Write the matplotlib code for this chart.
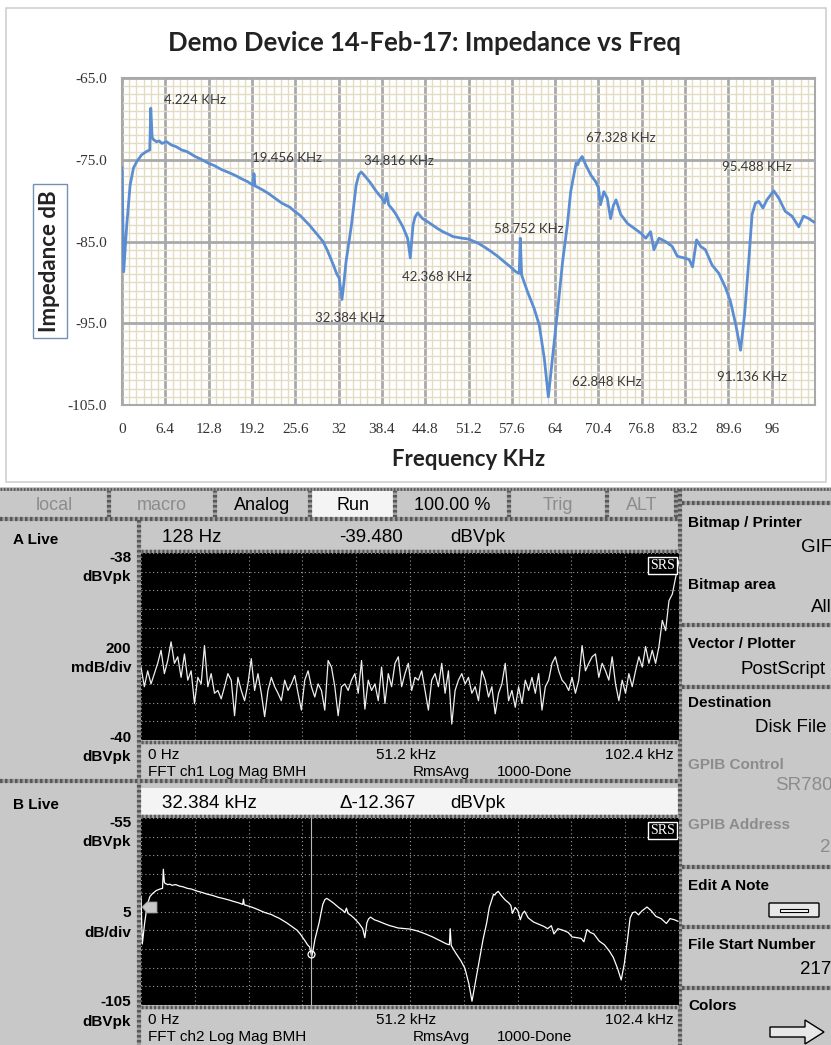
import numpy as np
import matplotlib.pyplot as plt
from matplotlib.patches import Rectangle, Polygon, FancyBboxPatch

W, H = 831, 1045

# ---- Excel chart: impedance vs frequency (also the B trace of the analyzer) ----
imp_freq = [0.0, 0.25, 0.5, 0.7, 1.0, 1.2, 1.7, 2.2, 2.9, 3.6, 4.1, 4.25, 4.45, 4.6,
            5.1, 5.5, 5.9, 6.6, 7.3, 8.0, 8.8, 9.6, 10.8, 11.6, 12.7, 13.6, 14.7,
            15.6, 16.7, 17.6, 18.6, 19.35, 19.5, 19.65, 19.9, 20.8, 21.6, 22.6,
            23.6, 24.8, 25.5, 26.3, 27.0, 27.7, 28.7, 29.7, 30.3, 30.7, 31.2, 31.7,
            32.1, 32.5, 32.8, 33.1, 33.9, 34.6, 35.0, 35.35, 35.7, 36.6, 37.6, 38.4,
            38.8, 39.1, 39.4, 40.0, 40.5, 41.5, 42.2, 42.6, 43.0, 43.3, 43.7, 44.4,
            45.2, 45.9, 46.6, 47.4, 48.2, 48.9, 49.6, 50.3, 51.2, 52.6, 53.6, 54.5,
            55.5, 56.5, 57.4, 58.2, 58.7, 58.85, 59.05, 59.9, 60.9, 61.65, 62.4,
            63.0, 63.6, 64.4, 65.1, 65.8, 66.3, 67.1, 67.35, 67.55, 68.0, 68.5,
            69.3, 70.0, 70.4, 70.7, 71.2, 71.7, 72.2, 72.6, 73.0, 73.7, 74.7, 75.7,
            76.7, 77.4, 78.1, 78.6, 79.35, 80.3, 81.3, 82.05, 83.0, 83.8, 84.3,
            84.9, 85.5, 86.2, 87.2, 88.2, 89.2, 89.9, 90.7, 91.4, 92.0, 92.6, 93.1,
            93.6, 94.1, 94.7, 95.3, 96.3, 97.05, 98.0, 99.0, 100.0, 100.7, 101.5,
            102.2]
imp_db = [-76.0, -88.7, -85.5, -83.0, -80.0, -78.1, -76.0, -75.2, -74.4, -74.0,
          -73.8, -68.7, -72.2, -72.5, -72.8, -72.7, -73.0, -72.8, -73.2, -73.4,
          -73.8, -74.0, -74.6, -74.9, -75.4, -75.7, -76.2, -76.5, -76.9, -77.3,
          -77.7, -78.1, -76.7, -78.2, -78.3, -78.7, -79.1, -79.7, -80.3, -80.8,
          -81.3, -81.8, -82.4, -83.0, -84.0, -85.0, -86.0, -86.8, -87.8, -88.9,
          -89.5, -92.1, -90.0, -87.5, -83.0, -78.1, -76.8, -76.5, -76.8, -77.7,
          -78.9, -79.7, -80.3, -79.1, -80.5, -81.1, -81.7, -83.2, -84.6, -87.0,
          -83.0, -82.0, -81.5, -82.2, -82.6, -83.0, -83.4, -83.8, -84.1, -84.4,
          -84.5, -84.6, -84.7, -85.2, -85.7, -86.2, -86.8, -87.5, -88.1, -88.7,
          -88.9, -84.6, -89.1, -91.1, -93.2, -95.2, -99.3, -104.0, -99.3, -93.2,
          -87.5, -83.0, -78.9, -75.4, -75.6, -75.1, -74.6, -75.6, -76.9, -77.7,
          -78.4, -80.5, -78.9, -79.7, -82.2, -80.6, -79.9, -81.7, -82.8, -83.4,
          -84.0, -84.6, -83.8, -86.0, -84.6, -85.0, -85.6, -86.8, -87.0, -87.2,
          -88.1, -84.8, -85.6, -86.0, -87.9, -88.9, -90.7, -92.3, -95.2, -98.3,
          -93.9, -87.5, -81.7, -80.3, -80.1, -80.9, -79.9, -78.8, -79.7, -81.3,
          -81.9, -83.2, -81.9, -82.2, -82.6]

note_text = ['4.224 KHz', '19.456 KHz', '34.816 KHz', '32.384 KHz', '42.368 KHz',
             '58.752 KHz', '67.328 KHz', '62.848 KHz', '95.488 KHz', '91.136 KHz']
note_f = [6.2, 19.2, 35.8, 28.5, 41.4, 55.0, 68.6, 66.5, 88.6, 87.9]
note_db = [-67.7, -74.8, -75.1, -94.3, -89.3, -83.5, -72.3, -102.2, -75.9, -101.6]

x_ticks = [0, 6.4, 12.8, 19.2, 25.6, 32, 38.4, 44.8, 51.2, 57.6, 64, 70.4, 76.8,
           83.2, 89.6, 96]
x_tick_text = ['0', '6.4', '12.8', '19.2', '25.6', '32', '38.4', '44.8', '51.2',
               '57.6', '64', '70.4', '76.8', '83.2', '89.6', '96']
y_ticks = [-105, -95, -85, -75, -65]
y_tick_text = ['-105.0', '-95.0', '-85.0', '-75.0', '-65.0']

# ---- analyzer trace A (live noise, dBVpk) ----
a_db = [-39.22, -39.43, -39.26, -39.40, -39.29, -39.18, -39.04, -39.29, -39.15,
        -38.95, -39.18, -39.11, -39.33, -39.08, -39.36, -39.26, -39.61, -39.33,
        -39.40, -38.99, -39.43, -39.29, -39.50, -39.47, -39.56, -39.43, -39.29,
        -39.36, -39.74, -39.33, -39.47, -39.58, -39.40, -39.13, -39.47, -39.29,
        -39.50, -39.75, -39.47, -39.33, -39.43, -39.50, -39.58, -39.36, -39.47,
        -39.40, -39.31, -39.50, -39.68, -39.36, -39.26, -39.43, -39.54, -39.40,
        -39.47, -39.68, -39.15, -39.22, -39.43, -39.74, -39.43, -39.40, -39.47,
        -39.36, -39.29, -39.50, -39.15, -39.67, -39.36, -39.47, -39.40, -39.58,
        -39.22, -39.61, -39.29, -39.43, -39.18, -39.11, -39.43, -39.29, -39.18,
        -39.47, -39.33,
        -39.36, -39.26, -39.47, -39.68, -39.36, -39.29, -39.43, -39.18, -39.50,
        -39.26, -39.83, -39.47, -39.36, -39.29, -39.40, -39.33, -39.50, -39.43,
        -39.58, -39.26, -39.36, -39.54, -39.43, -39.72, -39.50, -39.40, -39.18,
        -39.58, -39.47, -39.65, -39.43, -39.61, -39.36, -39.47, -39.33, -39.50,
        -39.29, -39.68, -39.43, -39.36, -39.18, -39.11, -39.26, -39.36, -39.40,
        -39.47, -39.33, -39.50, -39.36, -38.99, -39.26, -39.18, -39.11, -39.08,
        -39.33, -39.18, -39.26, -39.36, -39.11, -39.40, -39.58, -39.36, -39.50,
        -39.29, -39.43, -39.26, -39.11, -39.22, -39.00, -39.18, -39.04, -39.18,
        -39.00, -38.72, -38.83, -38.51, -38.44, -38.26, -38.08]
a_freq = np.linspace(0, 102.4, len(a_db))

cursor_f = 32.384

buttons = ['local', 'macro', 'Analog', 'Run', '100.00 %', 'Trig', 'ALT']
button_edges = [0, 109, 215, 310, 395, 509, 607, 676]
button_on = [False, False, True, True, True, False, False]


def box(x0, y0, x1, y1):
    return [x0 / W, 1 - y1 / H, (x1 - x0) / W, (y1 - y0) / H]


fig = plt.figure(figsize=(W / 100, H / 100), dpi=100, facecolor='white')

bg = fig.add_axes([0, 0, 1, 1])
bg.set_xlim(0, W)
bg.set_ylim(H, 0)
bg.axis('off')

# Excel chart frame + texts
bg.add_patch(Rectangle((6, 8), 820, 474, fc='white', ec='#cfcfcf', lw=1.2))
bg.text(425, 43, 'Demo Device 14-Feb-17: Impedance vs Freq', ha='center', va='center',
        fontsize=18.5, fontweight='bold', family='Lato', color='#222222')
bg.text(469, 460, 'Frequency KHz', ha='center', va='center', fontsize=16,
        fontweight='bold', family='Lato', color='#222222')
bg.text(50, 261, 'Impedance dB', rotation=90, ha='center', va='center', fontsize=16,
        fontweight='bold', family='Lato', color='#222222',
        bbox=dict(boxstyle='square,pad=0.3', fc='white', ec='#7590b5', lw=1.0))

ax = fig.add_axes(box(122, 78, 815, 405))
ax.plot(imp_freq, imp_db, color='#5b8dd3', lw=2.0, zorder=3)
ax.set_xlim(0, 102.4)
ax.set_ylim(-105, -65)
ax.set_xticks(x_ticks, x_tick_text)
ax.set_yticks(y_ticks, y_tick_text)
ax.set_xticks(np.arange(0, 102.5, 6.4 / 6), minor=True)
ax.set_yticks(np.arange(-105, -64, 1), minor=True)
ax.grid(which='minor', color='#e3dcc3', lw=1.0)
ax.grid(which='major', color='#a9a9a9', lw=2.0)
ax.tick_params(which='both', length=0)
ax.tick_params(axis='x', pad=13, labelsize=11, labelcolor='#333333')
ax.tick_params(axis='y', pad=11, labelsize=11, labelcolor='#333333')
for lab in ax.get_xticklabels() + ax.get_yticklabels():
    lab.set_family('Liberation Serif')
for s in ax.spines.values():
    s.set_color('#a9a9a9')
    s.set_linewidth(1.5)
for t, f, d in zip(note_text, note_f, note_db):
    ax.text(f, d, t, fontsize=9.5, family='Lato', color='#3a3a3a', ha='left',
            va='center', zorder=4)

# ---- analyzer screenshot ----
GRAY = '#c8c8c8'
bg.add_patch(Rectangle((0, 487), W, H - 487, fc=GRAY, ec='none'))


def sep(x0, y0, x1, y1, lw=3):
    bg.plot([x0, x1], [y0, y1], color='#a0a0a0', lw=lw, solid_capstyle='butt')
    bg.plot([x0, x1], [y0, y1], color='#585858', lw=lw, ls=(0, (0.6, 0.6)),
            dash_capstyle='butt')


# button row
bg.add_patch(Rectangle((311, 490), 84, 28, fc='#f4f4f4', ec='none'))
for i, name in enumerate(buttons):
    cx = (button_edges[i] + button_edges[i + 1]) / 2
    bg.text(cx, 505, name, ha='center', va='center', fontsize=13,
            family='Liberation Sans', color='black' if button_on[i] else '#8c8c8c')
for x in button_edges[1:]:
    sep(x, 490, x, 518)
sep(0, 489, W, 489, lw=2)
sep(0, 519, 680, 519)

# headers / footers
bg.add_patch(Rectangle((141, 788), 538, 29, fc='#f4f4f4', ec='none'))
sep(139, 520, 139, H)
sep(680, 489, 680, H)
sep(0, 781, 680, 781)
for y in [551, 742, 816, 1007]:
    sep(141, y, 679, y, lw=2.5)
for y in [503, 625, 687, 867, 927, 988]:
    sep(682, y, W, y)

left_labels = [('-38', 558), ('dBVpk', 577), ('200', 649), ('mdB/div', 668),
               ('-40', 738), ('dBVpk', 757),
               ('-55', 823), ('dBVpk', 842), ('5', 913), ('dB/div', 933),
               ('-105', 1002), ('dBVpk', 1022)]
for t, y in left_labels:
    bg.text(131, y, t, ha='right', va='center', fontsize=11, fontweight='bold',
            family='Liberation Sans', color='black')
bg.text(13, 540, 'A Live', ha='left', va='center', fontsize=11, fontweight='bold',
        family='Liberation Sans')
bg.text(13, 805, 'B Live', ha='left', va='center', fontsize=11, fontweight='bold',
        family='Liberation Sans')

hdr = [('128 Hz', 162, 537), ('-39.480', 339, 537), ('dBVpk', 450, 537),
       ('32.384 kHz', 162, 803), ('\u0394-12.367', 339, 803), ('dBVpk', 450, 803)]
for t, x, y in hdr:
    bg.text(x, y, t, ha='left', va='center', fontsize=13.5, family='Liberation Sans')

for dy, ch in [(0, '1'), (265, '2')]:
    bg.text(148, 755 + dy, '0 Hz', ha='left', va='center', fontsize=11,
            family='Liberation Sans')
    bg.text(376, 755 + dy, '51.2 kHz', ha='left', va='center', fontsize=11,
            family='Liberation Sans')
    bg.text(674, 755 + dy, '102.4 kHz', ha='right', va='center', fontsize=11,
            family='Liberation Sans')
    bg.text(148, 772 + dy, 'FFT ch%s Log Mag BMH' % ch, ha='left', va='center',
            fontsize=11, family='Liberation Sans')
    bg.text(413, 772 + dy, 'RmsAvg', ha='left', va='center', fontsize=11,
            family='Liberation Sans')
    bg.text(497, 772 + dy, '1000-Done', ha='left', va='center', fontsize=11,
            family='Liberation Sans')

# softkey panel
keys = [('Bitmap / Printer', 523, 'GIF', 801, 548, 'black'),
        ('Bitmap area', 585, 'All', 811, 608, 'black'),
        ('Vector / Plotter', 644, 'PostScript', 741, 670, 'black'),
        ('Destination', 703, 'Disk File', 755, 728, 'black'),
        ('GPIB Control', 765, 'SR780', 775, 786, '#8c8c8c'),
        ('GPIB Address', 825, '2', 820, 848, '#8c8c8c'),
        ('Edit A Note', 886, '', 0, 0, 'black'),
        ('File Start Number', 945, '217', 800, 970, 'black'),
        ('Colors', 1006, '', 0, 0, 'black')]
for lab, ly, val, vx, vy, c in keys:
    bg.text(688, ly, lab, ha='left', va='center', fontsize=11, fontweight='bold',
            family='Liberation Sans', color=c)
    if val:
        bg.text(vx, vy, val, ha='left', va='center', fontsize=13.5,
                family='Liberation Sans', color=c)
# note button and arrow icon
bg.add_patch(FancyBboxPatch((770, 904), 48, 12, boxstyle='round,pad=1', fc='#e8e8e8',
                            ec='black', lw=1.0))
bg.add_patch(Rectangle((780, 908.5), 28, 3, fc='white', ec='black', lw=0.8))
bg.add_patch(Polygon([(770, 1027), (805, 1027), (805, 1020), (824, 1032), (805, 1044),
                      (805, 1037), (770, 1037)], closed=True, fc='#e8e8e8', ec='black',
                     lw=1.0))

# trace A
axA = fig.add_axes(box(141, 553, 679, 740))
axA.set_facecolor('black')
axA.plot(a_freq, a_db, color='#eeeeee', lw=0.9)
axA.set_xlim(0, 102.4)
axA.set_ylim(-40, -38)
axA.set_xticks(np.linspace(0, 102.4, 11))
axA.set_yticks(np.linspace(-40, -38, 11))

# trace B
axB = fig.add_axes(box(141, 818, 679, 1005))
axB.set_facecolor('black')
axB.plot(imp_freq, imp_db, color='white', lw=0.9)
axB.axvline(cursor_f, color='#b8b8b8', lw=0.8)
axB.plot([cursor_f], [np.interp(cursor_f, imp_freq, imp_db)], 'o', mfc='none',
         mec='white', ms=5, mew=0.9)
axB.set_xlim(0, 102.4)
axB.set_ylim(-105, -55)
axB.set_xticks(np.linspace(0, 102.4, 11))
axB.set_yticks(np.linspace(-105, -55, 11))

for a in (axA, axB):
    a.grid(True, color='#9a9a9a', lw=0.8, ls=(0, (1, 2.5)))
    a.tick_params(length=0, labelbottom=False, labelleft=False)
    for s in a.spines.values():
        s.set_visible(False)
    a.text(0.993, 0.97, 'SRS', transform=a.transAxes, ha='right', va='top',
           family='Liberation Serif', color='white', fontsize=10,
           bbox=dict(boxstyle='square,pad=0.15', fc='black', ec='white', lw=1.0))

# reference flag on B
top = fig.add_axes([0, 0, 1, 1], zorder=10)
top.set_xlim(0, W)
top.set_ylim(H, 0)
top.axis('off')
top.add_patch(Polygon([(142, 907), (147, 902), (157, 902), (157, 913), (147, 913)],
                      closed=True, fc='#c8c8c8', ec='#909090', lw=0.6))

fig.savefig('out.png', dpi=100, facecolor='white')
